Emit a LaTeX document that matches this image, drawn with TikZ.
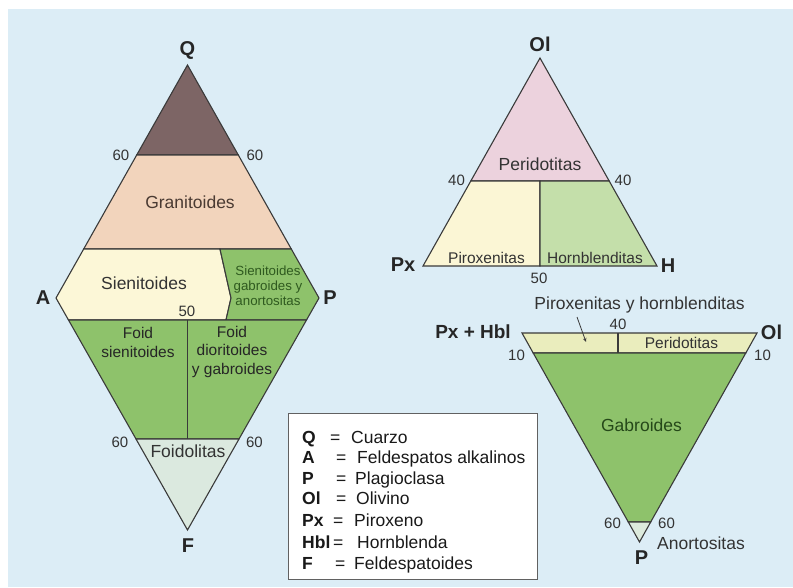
\documentclass[tikz,border=0pt]{standalone}
\usepackage{fontspec}
\setmainfont{Liberation Sans}
\usetikzlibrary{arrows.meta}
\definecolor{bg}{HTML}{DCEDF6}
\definecolor{edge}{HTML}{3A3A3A}
\definecolor{txt}{HTML}{333333}
\definecolor{qcap}{HTML}{7D6565}
\definecolor{grani}{HTML}{F2D4BC}
\definecolor{sieni}{HTML}{FCF7D7}
\definecolor{greenf}{HTML}{8EC26B}
\definecolor{foidol}{HTML}{DBE9DF}
\definecolor{perid}{HTML}{ECD2DD}
\definecolor{pirox}{HTML}{FBF6D5}
\definecolor{hornb}{HTML}{C4DFAA}
\definecolor{band}{HTML}{EAEDBD}
\definecolor{anort}{HTML}{DCEADC}
\definecolor{dgreen}{HTML}{2F5A1F}
\definecolor{dbrown}{HTML}{4A3A32}
\begin{document}
\begin{tikzpicture}[x=1pt,y=-1pt,
  region/.style={draw=edge,line width=1.1pt,line join=miter},
  divline/.style={draw=edge,line width=1.1pt},
  lab/.style={font=\fontsize{17.5}{19}\selectfont,text=txt,inner sep=0pt},
  slab/.style={font=\fontsize{15.5}{18.5}\selectfont,text=txt,inner sep=0pt,align=center},
  tlab/.style={font=\fontsize{13.3}{15}\selectfont,text=dgreen,inner sep=0pt,align=center},
  num/.style={font=\fontsize{15}{17}\selectfont,text=txt,inner sep=0pt},
  vtx/.style={font=\fontsize{20}{22}\selectfont\bfseries,text=black!85,inner sep=0pt},
  leg/.style={font=\fontsize{17.5}{19}\selectfont,text=black!90,inner sep=0pt,anchor=base west},
  legb/.style={font=\fontsize{17.5}{19}\selectfont\bfseries,text=black!90,inner sep=0pt,anchor=base west}]
\useasboundingbox (0,0) rectangle (793,587);
\fill[white] (0,0) rectangle (793,587);
\fill[bg] (8,9) rectangle (793,587);

% ---------- left diamond (QAPF) ----------
\coordinate (Q) at (187.5,65);
\coordinate (A) at (56,298);
\coordinate (P) at (319,298);
\coordinate (F) at (187.5,530);
\coordinate (q60l) at (136.7,155);
\coordinate (q60r) at (238.3,155);
\coordinate (q20l) at (83.7,249);
\coordinate (q20r) at (291.3,249);
\coordinate (s1) at (220,249);
\coordinate (s2) at (231,298);
\coordinate (s3) at (226,320);
\coordinate (f10l) at (68.5,320);
\coordinate (f10r) at (306.5,320);
\coordinate (f10m) at (187.5,320);
\coordinate (f60l) at (136,439);
\coordinate (f60r) at (239,439);
\coordinate (f60m) at (187.5,439);

\path[region,fill=qcap] (Q) -- (q60r) -- (q60l) -- cycle;
\path[region,fill=grani] (q60l) -- (q60r) -- (q20r) -- (q20l) -- cycle;
\path[region,fill=sieni] (q20l) -- (s1) -- (s2) -- (s3) -- (f10l) -- (A) -- cycle;
\path[region,fill=greenf] (s1) -- (q20r) -- (P) -- (f10r) -- (s3) -- (s2) -- cycle;
\path[region,fill=greenf] (f10l) -- (f10r) -- (f60r) -- (f60l) -- cycle;
\path[region,fill=foidol] (f60l) -- (f60r) -- (F) -- cycle;
\draw[divline] (f10m) -- (f60m);

\node[vtx] (lQ) at (187.5,50) {Q};
\node[vtx] (lA) at (43,298) {A};
\node[vtx] (lP) at (330,298) {P};
\node[vtx] (lF) at (188,546) {F};
\node[num] (n60a) at (121,155) {60};
\node[num] (n60b) at (255,155) {60};
\node[num] (n50a) at (187,311) {50};
\node[num] (n60c) at (120,442) {60};
\node[num] (n60d) at (254.5,442) {60};
\node[lab,text=dbrown] (tgran) at (190,202) {Granitoides};
\node[lab] (tsien) at (144,283) {Sienitoides};
\node[tlab] (tsgab) at (268,286) {Sienitoides\\gabroides y\\anortositas};
\node[slab,text=black!85] (tfs) at (138,342.5) {Foid\\sienitoides};
\node[slab,text=black!85] (tfd) at (232,351.5) {Foid\\dioritoides\\y gabroides};
\node[lab] (tfoidol) at (188,451) {Foidolitas};

% ---------- right upper triangle ----------
\coordinate (Ol) at (540,58);
\coordinate (Px) at (423,266);
\coordinate (H) at (657,266);
\coordinate (o40l) at (470.8,181);
\coordinate (o40r) at (609.2,181);
\coordinate (o40m) at (540,181);
\coordinate (b50) at (540,266);

\path[region,fill=perid] (Ol) -- (o40r) -- (o40l) -- cycle;
\path[region,fill=pirox] (o40l) -- (o40m) -- (b50) -- (Px) -- cycle;
\path[region,fill=hornb] (o40m) -- (o40r) -- (H) -- (b50) -- cycle;

\node[vtx] (lOl) at (540,44) {Ol};
\node[vtx] (lPx) at (403,265) {Px};
\node[vtx] (lH) at (668,266) {H};
\node[num] (n40a) at (456.5,180) {40};
\node[num] (n40b) at (623,180) {40};
\node[num] (n50b) at (539,278) {50};
\node[lab] (tper) at (540,164) {Peridotitas};
\node[lab,font=\fontsize{15.5}{17}\selectfont] (tpir) at (486.5,258) {Piroxenitas};
\node[lab,font=\fontsize{15.5}{17}\selectfont] (thor) at (595,258) {Hornblenditas};

% ---------- right lower triangle ----------
\coordinate (TL) at (522,333);
\coordinate (TR) at (757,333);
\coordinate (Pb) at (639.5,542);
\coordinate (p10l) at (533.2,353);
\coordinate (p10r) at (745.8,353);
\coordinate (p40t) at (618,333);
\coordinate (p40b) at (618,353);
\coordinate (p60l) at (628.3,522);
\coordinate (p60r) at (650.7,522);

\path[region,fill=band] (TL) -- (TR) -- (p10r) -- (p10l) -- cycle;
\path[region,fill=greenf] (p10l) -- (p10r) -- (p60r) -- (p60l) -- cycle;
\path[region,fill=anort] (p60l) -- (p60r) -- (Pb) -- cycle;
\draw[divline] (p40t) -- (p40b);

\node[lab] (tpyh) at (639.5,305) {Piroxenitas y hornblenditas};
\coordinate (arrS) at (577,317);
\coordinate (arrE) at (586,342);
\draw[edge,line width=0.8pt,-{Stealth[length=4pt,width=3.5pt]}] (arrS) -- (arrE);
\node[vtx,font=\fontsize{19}{21}\selectfont\bfseries] (lPH) at (473,332) {Px + Hbl};
\node[vtx] (lOl2) at (771.5,332) {Ol};
\node[vtx] (lPb) at (641.5,558) {P};
\node[num] (n40c) at (618,324) {40};
\node[num] (n10a) at (516.5,355) {10};
\node[num] (n10b) at (762.5,355) {10};
\node[num] (n60e) at (612.5,523) {60};
\node[num] (n60f) at (666.5,523) {60};
\node[lab,font=\fontsize{15.5}{17}\selectfont] (tper2) at (681.5,343) {Peridotitas};
\node[lab,text=dgreen!80!black] (tgab) at (641.5,425) {Gabroides};
\node[lab] (tano) at (701,543) {Anortositas};

% ---------- legend ----------
\node[draw=edge!80,line width=1pt,fill=white,minimum width=249pt,minimum height=166pt,inner sep=0pt,anchor=north west] (legbox) at (288,413) {};
\node[legb] (k1) at (302,443) {Q};   \node[leg] (e1) at (330,443) {=};  \node[leg] (v1) at (351,443) {Cuarzo};
\node[legb] (k2) at (302,463) {A};   \node[leg] (e2) at (336,463) {=};  \node[leg] (v2) at (357,463) {Feldespatos alkalinos};
\node[legb] (k3) at (302,484) {P};   \node[leg] (e3) at (336,484) {=};  \node[leg] (v3) at (355,484) {Plagioclasa};
\node[legb] (k4) at (302,504) {Ol};  \node[leg] (e4) at (336,504) {=};  \node[leg] (v4) at (356,504) {Olivino};
\node[legb] (k5) at (302,526) {Px};  \node[leg] (e5) at (333,526) {=};  \node[leg] (v5) at (354,526) {Piroxeno};
\node[legb] (k6) at (302,548) {Hbl}; \node[leg] (e6) at (333,548) {=};  \node[leg] (v6) at (357,548) {Hornblenda};
\node[legb] (k7) at (302,569) {F};   \node[leg] (e7) at (335,569) {=};  \node[leg] (v7) at (354,569) {Feldespatoides};
\end{tikzpicture}
\end{document}
